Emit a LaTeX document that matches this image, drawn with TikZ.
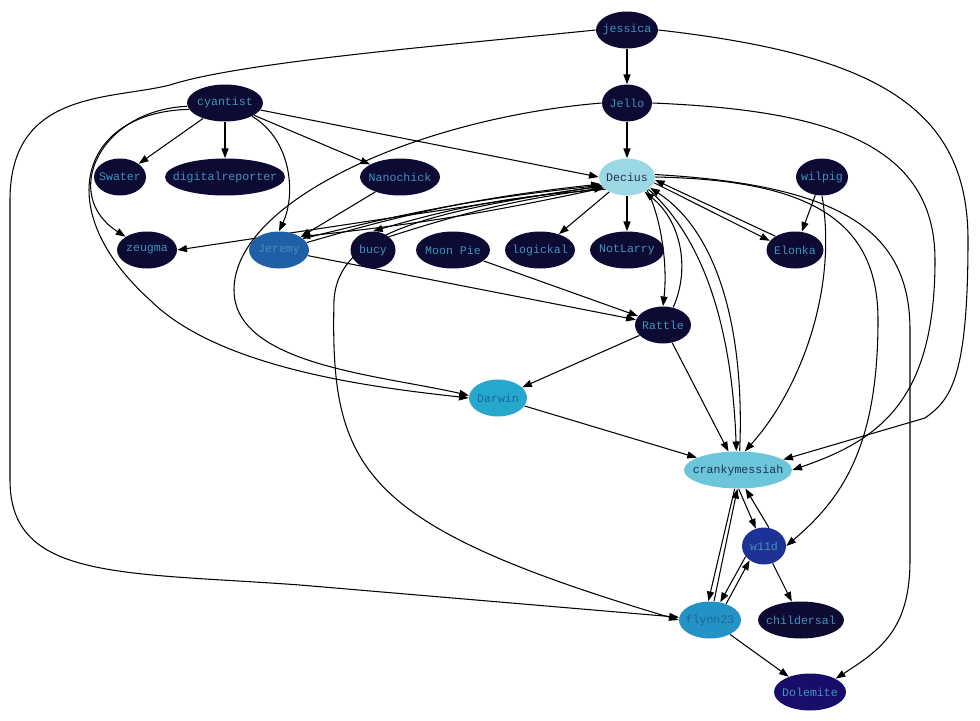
\documentclass[tikz,border=0pt]{standalone}
\usepackage{fontspec}
\setmonofont{Liberation Mono}
\usetikzlibrary{shapes.geometric,arrows.meta,backgrounds}

\definecolor{navy}{RGB}{13,10,52}
\definecolor{navytext}{RGB}{62,148,186}
\definecolor{deciusfill}{RGB}{155,216,228}
\definecolor{crankyfill}{RGB}{108,197,217}
\definecolor{darktext}{RGB}{28,52,88}
\definecolor{jeremyfill}{RGB}{31,95,165}
\definecolor{darwinfill}{RGB}{38,168,204}
\definecolor{flynnfill}{RGB}{34,147,196}
\definecolor{midtext}{RGB}{30,100,160}
\definecolor{wfill}{RGB}{30,50,150}
\definecolor{dolefill}{RGB}{24,14,106}

\newcommand{\nlbl}[1]{\makebox[0pt]{#1}}

\tikzset{
  user/.style={ellipse, fill=navy, text=navytext, inner sep=0pt, minimum height=0.74cm,
    font=\ttfamily\fontsize{6.6}{7.5}\selectfont},
}

\begin{document}
\begin{tikzpicture}[x=0.02cm, y=-0.02cm, >={Triangle[length=5.5pt,width=4pt]}]
\useasboundingbox (0,0) rectangle (980,720);
\node[user, minimum width=1.24cm] (jessica) at (627,30) {\nlbl{jessica}};
\node[user, minimum width=1.0cm] (jello) at (627,103) {\nlbl{Jello}};
\node[user, minimum width=1.52cm] (cyantist) at (225,103) {\nlbl{cyantist}};
\node[user, minimum width=1.12cm, fill=deciusfill, text=darktext] (decius) at (627,177) {\nlbl{Decius}};
\node[user, minimum width=1.04cm] (wilpig) at (822,177) {\nlbl{wilpig}};
\node[user, minimum width=1.04cm] (swater) at (120,177) {\nlbl{Swater}};
\node[user, minimum width=2.4cm] (digital) at (225,177) {\nlbl{digitalreporter}};
\node[user, minimum width=1.6cm] (nanochick) at (400,177) {\nlbl{Nanochick}};
\node[user, minimum width=1.2cm] (zeugma) at (147,250) {\nlbl{zeugma}};
\node[user, minimum width=1.2cm, fill=jeremyfill, text=navytext] (jeremy) at (279,250) {\nlbl{Jeremy}};
\node[user, minimum width=0.9cm] (bucy) at (373,250) {\nlbl{bucy}};
\node[user, minimum width=1.48cm] (moonpie) at (453,250) {\nlbl{Moon Pie}};
\node[user, minimum width=1.4cm] (logickal) at (540,250) {\nlbl{logickal}};
\node[user, minimum width=1.48cm] (notlarry) at (627,250) {\nlbl{NotLarry}};
\node[user, minimum width=1.14cm] (elonka) at (795,250) {\nlbl{Elonka}};
\node[user, minimum width=1.12cm] (rattle) at (663,325) {\nlbl{Rattle}};
\node[user, minimum width=1.16cm, fill=darwinfill, text=midtext] (darwin) at (498,398) {\nlbl{Darwin}};
\node[user, minimum width=2.16cm, fill=crankyfill, text=darktext] (cranky) at (738,470) {\nlbl{crankymessiah}};
\node[user, minimum width=0.88cm, fill=wfill, text=navytext] (w11d) at (764,546) {\nlbl{w11d}};
\node[user, minimum width=1.24cm, fill=flynnfill, text=midtext] (flynn) at (710,620) {\nlbl{flynn23}};
\node[user, minimum width=1.72cm] (childersal) at (801,620) {\nlbl{childersal}};
\node[user, minimum width=1.44cm, fill=dolefill, text=navytext] (dolemite) at (810,692) {\nlbl{Dolemite}};

\begin{pgfonlayer}{background}
\begin{scope}[line width=0.6pt]
% jessica
\draw[->] (jessica) -- (jello);
\draw[->] (jessica.west) .. controls (450,45) and (240,62) .. (170,85) .. controls (110,100) and (10,90) .. (10,200) -- (10,480) .. controls (10,580) and (120,572) .. (300,585) -- (flynn.175);
\draw[->] (jessica.east) .. controls (880,55) and (968,110) .. (968,240) .. controls (968,380) and (950,400) .. (925,418) -- (cranky.13);
% Jello
\draw[->] (jello) -- (decius);
\draw[->] (jello.west) .. controls (420,118) and (234,200) .. (234,290) .. controls (234,365) and (380,375) .. (darwin.175);
\draw[->] (jello.east) .. controls (820,110) and (935,140) .. (935,260) .. controls (935,400) and (880,440) .. (cranky.east);
% cyantist
\draw[->] (cyantist) -- (swater);
\draw[->] (cyantist) -- (digital);
\draw[->] (cyantist) -- (nanochick);
\draw[->] (cyantist) -- (decius.west);
\draw[->] (cyantist.south east) .. controls (292,140) and (296,195) .. (jeremy.north);
\draw[->] (cyantist.185) .. controls (100,110) and (60,195) .. (zeugma.north west);
\draw[->] (cyantist.190) .. controls (80,112) and (50,210) .. (150,300) .. controls (220,370) and (380,388) .. (darwin.west);
\draw[->] (nanochick) -- (jeremy);
% Decius
\draw[->] (decius.200) -- (zeugma.east);
\draw[->] (decius.205) to[bend left=3] (jeremy.north east);
\draw[->] (jeremy.25) to[bend left=4] (decius.198);
\draw[->] (jeremy.15) to[bend left=5] (decius.195);
\draw[->] (decius.210) to[bend right=6] (bucy.north);
\draw[->] (bucy.north east) to[bend left=5] (decius.205);
\draw[->] (decius.200) .. controls (420,212) and (338,235) .. (334,300) .. controls (330,470) and (360,525) .. (flynn.west);
\draw[->] (decius) -- (logickal);
\draw[->] (decius) -- (notlarry);
\draw[->] (decius.south east) .. controls (660,215) and (668,262) .. (rattle.north);
\draw[->] (rattle.60) .. controls (690,270) and (682,222) .. (decius.-40);
\draw[->] (decius.-30) .. controls (705,240) and (732,330) .. (cranky.95);
\draw[->] (cranky.85) .. controls (745,330) and (718,232) .. (decius.-25);
\draw[->] (decius.-12) -- (elonka.160);
\draw[->] (elonka.145) -- (decius.-6);
\draw[->] (decius.east) .. controls (810,180) and (878,220) .. (878,320) .. controls (878,450) and (840,500) .. (w11d.east);
\draw[->] (decius.5) .. controls (840,185) and (910,230) .. (910,330) -- (910,560) .. controls (910,630) and (880,650) .. (dolemite.north east);
% wilpig
\draw[->] (wilpig) -- (elonka);
\draw[->] (wilpig.south) .. controls (838,290) and (800,390) .. (cranky.70);
% Rattle and the rest
\draw[->] (jeremy) -- (rattle);
\draw[->] (moonpie) -- (rattle);
\draw[->] (rattle) -- (darwin);
\draw[->] (rattle) -- (cranky);
\draw[->] (darwin) -- (cranky);
\draw[->] (cranky.-88) -- (w11d.115);
\draw[->] (w11d.75) -- (cranky.-68);
\draw[->] (cranky.-100) -- (flynn.95);
\draw[->] (flynn.78) -- (cranky.-92);
\draw[->] (w11d.-150) -- (flynn.60);
\draw[->] (flynn.45) -- (w11d.-135);
\draw[->] (w11d) -- (childersal);
\draw[->] (flynn) -- (dolemite);
\end{scope}
\end{pgfonlayer}
\end{tikzpicture}
\end{document}
